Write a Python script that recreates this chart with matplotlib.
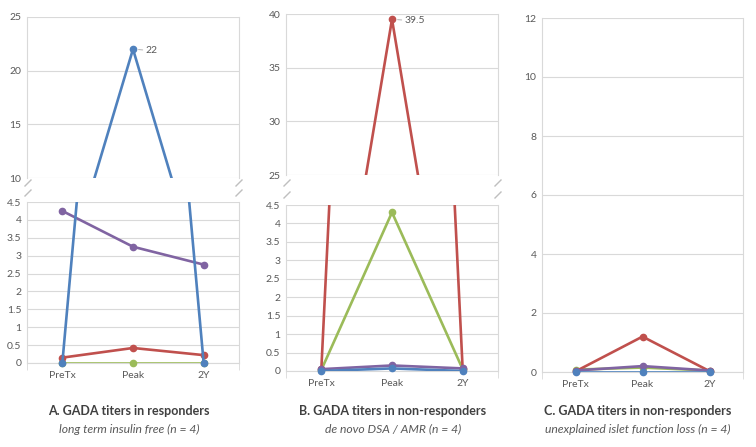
import numpy as np
import matplotlib.pyplot as plt
from matplotlib.lines import Line2D
from matplotlib.ticker import FuncFormatter

W, H = 756, 447
categories = ['PreTx', 'Peak', '2Y']

# A. responders
a_blue = [0, 22, 0]
a_red = [0.15, 0.42, 0.22]
a_green = [0, 0, 0]
a_purple = [4.25, 3.25, 2.75]

# B. non-responders, de novo DSA / AMR
b_blue = [0.0, 0.07, 0.0]
b_red = [0.05, 39.5, 0.05]
b_green = [0.03, 4.3, 0.05]
b_purple = [0.05, 0.15, 0.07]

# C. non-responders, unexplained loss
c_blue = [0, 0, 0]
c_red = [0.02, 1.2, 0.03]
c_green = [0.08, 0.15, 0.05]
c_purple = [0.05, 0.2, 0.05]

titles = ['A. GADA titers in responders',
          'B. GADA titers in non-responders',
          'C. GADA titers in non-responders']
subtitles = ['long term insulin free (n = 4)',
             'de novo DSA / AMR (n = 4)',
             'unexplained islet function loss (n = 4)']

colors = {'blue': '#4F81BD', 'red': '#C0504D', 'green': '#9BBB59', 'purple': '#8064A2'}
order = ['green', 'red', 'purple', 'blue']
GRID = '#D9D9D9'
TXT = '#595959'

plt.rcParams['font.family'] = ['Lato', 'DejaVu Sans']

fig = plt.figure(figsize=(W / 100, H / 100), dpi=100)


def box(left, top, right, bottom):
    return [left / W, 1 - bottom / H, (right - left) / W, (bottom - top) / H]


def panel(ax, series, lo, hi, step, xlabels=True):
    x = np.arange(len(categories))
    for z, name in enumerate(order):
        y = np.array(series[name], dtype=float)
        ax.plot(x, y, color=colors[name], lw=1.9, zorder=3 + z)
        keep = (y >= lo) & (y <= hi)
        ax.plot(x[keep], y[keep], 'o', ms=4.5, color=colors[name],
                clip_on=False, zorder=3 + z)
    ax.set_xlim(-0.5, 2.5)
    ax.set_ylim(lo, hi)
    ax.set_yticks(np.arange(lo, hi + step / 2, step))
    ax.yaxis.set_major_formatter(FuncFormatter(lambda v, p: f'{v:g}'))
    ax.grid(axis='y', color=GRID, lw=0.8)
    ax.set_axisbelow(True)
    for s in ['left', 'right']:
        ax.spines[s].set_color(GRID)
    ax.spines['top'].set_visible(False)
    ax.tick_params(axis='y', length=0, labelsize=7.5, colors=TXT, pad=4)
    if xlabels:
        ax.spines['bottom'].set_color(GRID)
        ax.set_xticks(x)
        ax.set_xticklabels(categories)
        ax.set_xticks([-0.5, 2.5], minor=True)
        ax.tick_params(axis='x', which='major', length=0, labelsize=7.5,
                       colors=TXT, pad=6)
        ax.tick_params(axis='x', which='minor', length=5, color=GRID)
    else:
        ax.spines['bottom'].set_visible(False)
        ax.set_xticks([])


def label_peak(ax, series, name):
    v = series[name][1]
    ax.annotate(f'{v:g}', xy=(1, v), xytext=(9, -1), textcoords='offset points',
                va='center', ha='left', fontsize=7.5, color=TXT,
                arrowprops=dict(arrowstyle='-', color='#A6A6A6', lw=0.6,
                                shrinkA=0, shrinkB=4))


def breaks(left, right, ys):
    for xp in (left, right):
        for yp in ys:
            fig.add_artist(Line2D([(xp - 3) / W, (xp + 3) / W],
                                  [1 - (yp + 3) / H, 1 - (yp - 3) / H],
                                  color='#BFBFBF', lw=1.0))


sa = {'blue': a_blue, 'red': a_red, 'green': a_green, 'purple': a_purple}
sb = {'blue': b_blue, 'red': b_red, 'green': b_green, 'purple': b_purple}
sc = {'blue': c_blue, 'red': c_red, 'green': c_green, 'purple': c_purple}

# panel A
ax = fig.add_axes(box(27, 17, 239, 178))
panel(ax, sa, 10, 25, 5, xlabels=False)
label_peak(ax, sa, 'blue')
ax = fig.add_axes(box(27, 202, 239, 363))
panel(ax, sa, 0, 4.5, 0.5)
breaks(28, 239, [183, 193])

# panel B
ax = fig.add_axes(box(286, 14, 498, 175))
panel(ax, sb, 25, 40, 5, xlabels=False)
label_peak(ax, sb, 'red')
ax = fig.add_axes(box(286, 205, 498, 371))
panel(ax, sb, 0, 4.5, 0.5)
breaks(287, 498, [183, 195])

# panel C
ax = fig.add_axes(box(542, 18, 743, 372))
panel(ax, sc, 0, 12, 2)

for cx, t, s in zip([129, 393, 638], titles, subtitles):
    fig.text(cx / W, 1 - 411 / H, t, ha='center', va='center',
             fontsize=9, weight='bold', color='#404040')
    fig.text(cx / W, 1 - 429 / H, s, ha='center', va='center',
             fontsize=8.7, style='italic', color=TXT)

fig.savefig('out.png', dpi=100, facecolor='white')
